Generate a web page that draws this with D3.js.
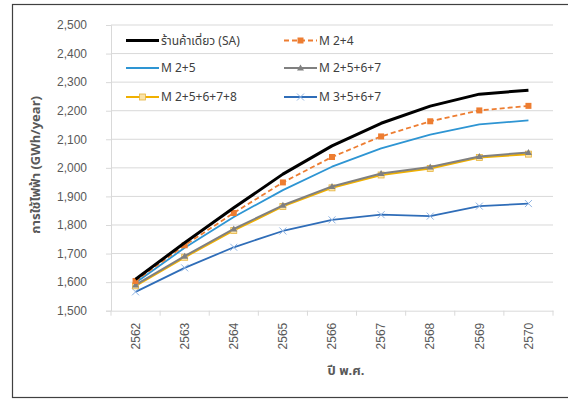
<!DOCTYPE html>
<html>
<head>
<meta charset="utf-8">
<script src="https://cdn.jsdelivr.net/npm/d3@7"></script>
<style>
  html, body { margin: 0; padding: 0; background: #fff; }
  svg { display: block; font-family: "Noto Sans", "Noto Sans Thai", "DejaVu Sans", sans-serif; }
</style>
</head>
<body>
<svg id="chart" width="568" height="400"></svg>
<script>
// Years (Buddhist era) on the x axis
const years = ["2562", "2563", "2564", "2565", "2566", "2567", "2568", "2569", "2570"];

// Electricity use per scenario, GWh/year
const saValues      = [1610, 1738, 1860, 1978, 2077, 2156, 2216, 2258, 2272];
const m24Values     = [1604, 1729, 1842, 1949, 2038, 2110, 2163, 2201, 2217];
const m25Values     = [1598, 1720, 1828, 1922, 2004, 2068, 2116, 2152, 2166];
const m2567Values   = [1590, 1691, 1786, 1869, 1935, 1980, 2003, 2040, 2054];
const m25678Values  = [1587, 1687, 1781, 1865, 1930, 1975, 1998, 2036, 2048];
const m3567Values   = [1566, 1650, 1722, 1779, 1818, 1836, 1831, 1866, 1875];

const seriesNames = ["ร้านค้าเดี่ยว (SA)", "M 2+4", "M 2+5", "M 2+5+6+7", "M 2+5+6+7+8", "M 3+5+6+7"];
const yTicks = [1500, 1600, 1700, 1800, 1900, 2000, 2100, 2200, 2300, 2400, 2500];

const styles = [
  { color: "#000000", width: 3,   dash: null,  marker: "none" },
  { color: "#ED7D31", width: 1.8, dash: "5,3", marker: "square" },
  { color: "#2E95D3", width: 1.8, dash: null,  marker: "none" },
  { color: "#808080", width: 2,   dash: null,  marker: "triangle" },
  { color: "#F0B000", width: 2,   dash: null,  marker: "hollowSquare" },
  { color: "#2F6DB8", width: 1.8, dash: null,  marker: "cross" }
];

const series = [saValues, m24Values, m25Values, m2567Values, m25678Values, m3567Values]
  .map((vals, i) => ({ name: seriesNames[i], values: vals, style: styles[i] }));

const svg = d3.select("#chart");

// outer chart border
svg.append("rect")
  .attr("x", 12.5).attr("y", 4.5)
  .attr("width", 570).attr("height", 393)
  .attr("fill", "none").attr("stroke", "#404040").attr("stroke-width", 1.2);

const plot = { left: 111, right: 553, top: 25, bottom: 310.7 };

const x = d3.scaleBand().domain(years).range([plot.left, plot.right]);
const y = d3.scaleLinear().domain([1500, 2500]).range([plot.bottom, plot.top]);

// horizontal gridlines
svg.append("g").selectAll("line").data(yTicks.slice(1)).join("line")
  .attr("x1", plot.left).attr("x2", plot.right)
  .attr("y1", d => y(d)).attr("y2", d => y(d))
  .attr("stroke", "#D9D9D9").attr("stroke-width", 1);

// y axis
const yAxis = d3.axisLeft(y).tickValues(yTicks).tickFormat(d3.format(",")).tickSize(5).tickPadding(19);
const gy = svg.append("g").attr("transform", `translate(${plot.left},0)`).call(yAxis);
gy.select(".domain").attr("stroke", "#D9D9D9");
gy.selectAll(".tick line").attr("stroke", "#D9D9D9");
gy.selectAll(".tick text").attr("fill", "#595959").style("font-size", "12px");

// x axis
const xAxis = d3.axisBottom(x).tickSize(0);
const gx = svg.append("g").attr("transform", `translate(0,${plot.bottom})`).call(xAxis);
gx.select(".domain").attr("stroke", "#D9D9D9");
gx.selectAll(".tick text")
  .attr("fill", "#595959").style("font-size", "12px")
  .attr("transform", "rotate(-90)")
  .attr("text-anchor", "end")
  .attr("x", -12).attr("y", 0).attr("dy", "0.35em");
// tick marks at category boundaries
gx.append("g").selectAll("line").data(d3.range(years.length + 1)).join("line")
  .attr("x1", i => plot.left + i * x.step()).attr("x2", i => plot.left + i * x.step())
  .attr("y1", 0).attr("y2", 5)
  .attr("stroke", "#D9D9D9");

// axis titles
svg.append("text")
  .attr("transform", "translate(40,165) rotate(-90)")
  .attr("text-anchor", "middle")
  .attr("fill", "#595959").style("font-size", "13px").style("font-weight", "bold")
  .text("การใช้ไฟฟ้า (GWh/year)");
svg.append("text")
  .attr("x", 346).attr("y", 375)
  .attr("text-anchor", "middle")
  .attr("fill", "#595959").style("font-size", "13px").style("font-weight", "bold")
  .text("ปี พ.ศ.");

const cx = d => x(d) + x.bandwidth() / 2;

function drawMarker(g, type, color, px, py) {
  if (type === "square") {
    g.append("rect").attr("x", px - 3).attr("y", py - 3).attr("width", 6).attr("height", 6)
      .attr("fill", color);
  } else if (type === "hollowSquare") {
    g.append("rect").attr("x", px - 3).attr("y", py - 3).attr("width", 6).attr("height", 6)
      .attr("fill", "#FBE3A6").attr("stroke", "#E7B43F").attr("stroke-width", 0.8);
  } else if (type === "triangle") {
    g.append("path").attr("d", `M${px},${py - 3.5}L${px + 3.5},${py + 2.5}L${px - 3.5},${py + 2.5}Z`)
      .attr("fill", color);
  } else if (type === "cross") {
    g.append("path").attr("d", `M${px - 3.5},${py - 3.5}L${px + 3.5},${py + 3.5}M${px - 3.5},${py + 3.5}L${px + 3.5},${py - 3.5}`)
      .attr("stroke", "#8FB4E3").attr("stroke-width", 1);
  }
}

// legend
const legendRows = [40.5, 68, 97];
const legendCols = [126, 284];
const legend = svg.append("g");
series.forEach((s, i) => {
  const lx = legendCols[i % 2], ly = legendRows[Math.floor(i / 2)];
  const g = legend.append("g");
  g.append("line").attr("x1", lx).attr("x2", lx + 33).attr("y1", ly).attr("y2", ly)
    .attr("stroke", s.style.color).attr("stroke-width", s.style.width)
    .attr("stroke-dasharray", s.style.dash);
  drawMarker(g, s.style.marker, s.style.color, lx + 16.5, ly);
  g.append("text").attr("x", lx + 35).attr("y", ly).attr("dy", "0.35em")
    .attr("fill", "#404040").style("font-size", "12px").text(s.name);
});

// series lines, drawn from last to first so the heavy black line sits on top
const line = d3.line().x((d, i) => cx(years[i])).y(d => y(d));
series.slice().reverse().forEach(s => {
  const g = svg.append("g");
  g.append("path").datum(s.values).attr("d", line)
    .attr("fill", "none").attr("stroke", s.style.color)
    .attr("stroke-width", s.style.width).attr("stroke-dasharray", s.style.dash)
    .attr("stroke-linejoin", "round");
  s.values.forEach((v, i) => drawMarker(g, s.style.marker, s.style.color, cx(years[i]), y(v)));
});
</script>
</body>
</html>
